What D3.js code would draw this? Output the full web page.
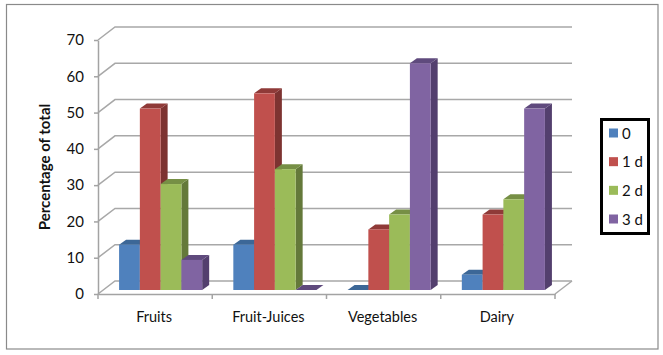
<!DOCTYPE html>
<html>

<head>
  <meta charset="UTF-8">
  <title>Percentage of total</title>
  <script src="https://d3js.org/d3.v7.min.js"></script>
  <style>
    body {
      margin: 0;
      padding: 0;
      background: white;
    }

    svg {
      display: block;
    }

    text {
      font-family: Lato, "Open Sans", sans-serif;
      fill: #111;
    }

    .axis text {
      font-size: 14.5px;
    }

    .axis .domain,
    .axis line {
      stroke: #a3a3a3;
      stroke-width: 1.5px;
    }

    .grid {
      stroke: #a8a8a8;
      stroke-width: 1.5px;
      fill: none;
    }
  </style>
</head>

<body>
  <svg id="chart" width="663" height="355"></svg>

  <script>
    var categories = ["Fruits", "Fruit-Juices", "Vegetables", "Dairy"];
    var seriesNames = ["0", "1 d", "2 d", "3 d"];
    var series0 = [12.5, 12.5, 0, 4.2];
    var series1 = [50, 54.2, 16.7, 20.8];
    var series2 = [29.2, 33.3, 20.8, 25];
    var series3 = [8.3, 0, 62.5, 50];
    var yTicks = [0, 10, 20, 30, 40, 50, 60, 70];

    var seriesValues = [series0, series1, series2, series3];
    var front = ["#4f81bd", "#c0504d", "#9bbb59", "#8064a2"];
    var side = ["#3a6190", "#7d3331", "#64793a", "#533f6e"];
    var topFace = ["#3c6797", "#8f3a38", "#768f45", "#5f4a7d"];

    var svg = d3.select("#chart");

    // frame round the whole chart
    svg.append("rect")
      .attr("x", 6.5).attr("y", 4.5)
      .attr("width", 651.5).attr("height", 344.5)
      .attr("fill", "white")
      .attr("stroke", "#8a8a8a")
      .attr("stroke-width", 1.2);

    var plotLeft = 98, plotRight = 555, plotBottom = 294, plotTop = 40;
    var wallX = 17, wallY = 13; // depth of the 3d box
    var barX = 7, barY = 5;     // depth of one bar
    var barLift = 4;            // bars stand a little behind the front edge
    var barShift = 5.5;         // and sit a bit right of the band centre

    var x = d3.scaleBand().domain(categories).range([plotLeft, plotRight]);
    var y = d3.scaleLinear().domain([0, 70]).range([plotBottom, plotTop]);
    var inner = d3.scaleBand()
      .domain(d3.range(seriesNames.length))
      .range([0, x.step()])
      .paddingOuter(0.75)
      .paddingInner(0);

    // gridlines on wall + side
    svg.append("g").selectAll("path")
      .data(yTicks)
      .enter()
      .append("path")
      .attr("class", "grid")
      .attr("d", function (d) {
        return "M" + plotLeft + "," + y(d) + "L" + (plotLeft + wallX) + "," + (y(d) - wallY) + "H" + (plotRight + wallX);
      });

    // floor, right edge
    svg.append("line")
      .attr("class", "grid")
      .attr("x1", plotRight).attr("y1", y(0))
      .attr("x2", plotRight + wallX).attr("y2", y(0) - wallY);

    // axes
    svg.append("g")
      .attr("class", "axis")
      .attr("transform", "translate(" + plotLeft + ",0)")
      .call(d3.axisLeft(y).tickValues(yTicks).tickSize(4).tickPadding(10).tickSizeOuter(0))
      .selectAll("text")
      .style("font-size", "15px");

    var xAxis = svg.append("g")
      .attr("class", "axis")
      .attr("transform", "translate(0," + plotBottom + ")")
      .call(d3.axisBottom(x).tickSize(0).tickPadding(18));

    xAxis.selectAll("text").attr("dx", -1);

    // ticks sit on the band edges, not the centres
    xAxis.selectAll(".edge")
      .data(d3.range(categories.length + 1))
      .enter()
      .append("line")
      .attr("class", "edge")
      .attr("x1", function (d) { return plotLeft + d * x.step(); })
      .attr("x2", function (d) { return plotLeft + d * x.step(); })
      .attr("y1", 0)
      .attr("y2", 5);

    // bars
    var groups = svg.append("g").selectAll("g")
      .data(categories)
      .enter()
      .append("g")
      .attr("transform", function (d) { return "translate(" + (x(d) + barShift) + ",0)"; });

    groups.each(function (cat, c) {
      var g = d3.select(this);
      seriesValues.forEach(function (values, s) {
        var bx = inner(s);
        var w = inner.bandwidth();
        var base = y(0) - barLift;
        var ty = y(values[c]) - barLift;

        g.append("path")
          .attr("fill", side[s])
          .attr("d", "M" + (bx + w) + "," + ty + "l" + barX + "," + (-barY) + "V" + (base - barY) + "l" + (-barX) + "," + barY + "Z");

        g.append("path")
          .attr("fill", topFace[s])
          .attr("d", "M" + bx + "," + ty + "l" + barX + "," + (-barY) + "h" + w + "l" + (-barX) + "," + barY + "Z");

        g.append("rect")
          .attr("x", bx)
          .attr("y", ty)
          .attr("width", w)
          .attr("height", base - ty)
          .attr("fill", front[s]);
      });
    });

    // y title
    svg.append("text")
      .attr("transform", "translate(50,167) rotate(-90)")
      .attr("text-anchor", "middle")
      .style("font-size", "15px")
      .style("font-weight", "bold")
      .text("Percentage of total");

    // legend
    svg.append("rect")
      .attr("x", 601.5).attr("y", 119.5)
      .attr("width", 47).attr("height", 114)
      .attr("fill", "white")
      .attr("stroke", "black")
      .attr("stroke-width", 3);

    var legendY = d3.scalePoint().domain(seriesNames).range([133, 219]);

    var legendItems = svg.append("g").selectAll("g")
      .data(seriesNames)
      .enter()
      .append("g")
      .attr("transform", function (d) { return "translate(609," + legendY(d) + ")"; });

    legendItems.append("rect")
      .attr("x", 0).attr("y", -4.5)
      .attr("width", 9).attr("height", 9)
      .attr("fill", function (d, i) { return front[i]; });

    legendItems.append("text")
      .attr("x", 13)
      .attr("y", 5.5)
      .style("font-size", "15px")
      .text(function (d) { return d; });
  </script>
</body>

</html>
